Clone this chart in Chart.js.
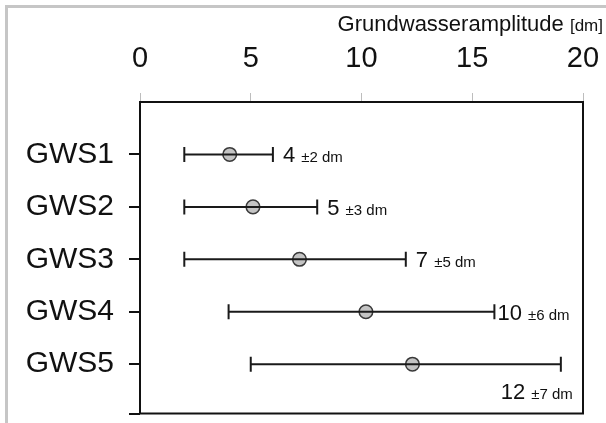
<!DOCTYPE html>
<html>
<head>
<meta charset="utf-8">
<script src="https://cdn.jsdelivr.net/npm/chart.js@4"></script>
<style>
  body { margin: 0; background: #fff; }
  #wrap { position: relative; width: 606px; height: 423px; }
  #frame { position: absolute; left: 5px; top: 5px; right: 0; bottom: 0;
           border-left: 3px solid #c6c6c6; border-top: 3px solid #c6c6c6; }
  canvas { position: absolute; left: 0; top: 0; }
</style>
</head>
<body>
<div id="wrap">
  <div id="frame"></div>
  <canvas id="chart" width="606" height="423"></canvas>
</div>
<script>
const stations = ['GWS1', 'GWS2', 'GWS3', 'GWS4', 'GWS5']
const means = [4.05, 5.1, 7.2, 10.2, 12.3]
const lows = [2, 2, 2, 4, 5]
const highs = [6, 8, 12, 16, 19]
const meanText = ['4', '5', '7', '10', '12']
const spreadText = ['±2 dm', '±3 dm', '±5 dm', '±6 dm', '±7 dm']
const xTicks = [0, 5, 10, 15, 20]
const axisTitle = 'Grundwasseramplitude'
const axisUnit = '[dm]'

const FONT = '"Liberation Sans", Arial, sans-serif'
const yMax = 5.94

// one dataset per range line, caps drawn as rotated line points
let datasets = stations.map(function (s, i) {
    return {
        data: [{ x: lows[i], y: i + 1 }, { x: highs[i], y: i + 1 }],
        showLine: true,
        borderColor: '#1a1a1a',
        borderWidth: 2,
        pointStyle: 'line',
        pointRotation: 90,
        pointRadius: 7.5,
        pointBorderWidth: 2,
        pointBorderColor: '#1a1a1a'
    }
})
datasets.push({
    data: means.map((m, i) => ({ x: m, y: i + 1 })),
    pointRadius: 6.8,
    pointBackgroundColor: '#c4c4c4',
    pointBorderColor: '#3a3a3a',
    pointBorderWidth: 1.5
})

const extras = {
    id: 'extras',
    afterDatasetsDraw(chart) {
        const c = chart.ctx
        const a = chart.chartArea
        const xs = chart.scales.x
        const ys = chart.scales.y
        c.save()
        c.strokeStyle = '#111'
        c.lineWidth = 2
        c.strokeRect(a.left, a.top, a.right - a.left, a.bottom - a.top)

        c.fillStyle = '#111'
        c.textBaseline = 'alphabetic'
        stations.forEach(function (s, i) {
            const big = meanText[i] + ' '
            const small = spreadText[i]
            c.font = '22px ' + FONT
            const w1 = c.measureText(big).width
            c.font = '15px ' + FONT
            const w2 = c.measureText(small).width
            let x, y
            if (i === stations.length - 1) {
                x = xs.getPixelForValue(highs[i]) + 12 - w1 - w2
                y = ys.getPixelForValue(i + 1) + 35
            } else {
                x = xs.getPixelForValue(highs[i]) + (i === 3 ? 3 : 10)
                y = ys.getPixelForValue(i + 1) + 8
            }
            c.font = '22px ' + FONT
            c.fillText(big, x, y)
            c.font = '15px ' + FONT
            c.fillText(small, x + w1, y)
        })

        // axis title, right aligned above the tick labels
        c.font = '17px ' + FONT
        const wu = c.measureText(axisUnit).width
        c.fillText(axisUnit, 603 - wu, 31)
        c.font = '22px ' + FONT
        const wt = c.measureText(axisTitle + ' ').width
        c.fillText(axisTitle + ' ', 603 - wu - wt, 31)
        c.restore()
    }
}

new Chart(document.getElementById('chart'), {
    type: 'scatter',
    data: { datasets: datasets },
    options: {
        responsive: false,
        animation: false,
        layout: { padding: { top: 0, right: 23, bottom: 7, left: 0 } },
        plugins: { legend: { display: false }, tooltip: { enabled: false } },
        scales: {
            x: {
                position: 'top',
                min: 0,
                max: 20,
                afterBuildTicks(scale) {
                    scale.ticks = xTicks.map(v => ({ value: v }))
                },
                afterFit(scale) {
                    scale.height = 102
                    scale.paddingLeft = 0
                    scale.paddingRight = 0
                },
                border: { display: false },
                grid: { drawOnChartArea: false, tickLength: 9, color: '#bdbdbd', lineWidth: 1 },
                ticks: { font: { size: 29, family: FONT }, color: '#111', padding: 17 }
            },
            y: {
                reverse: true,
                min: 0,
                max: yMax,
                afterBuildTicks(scale) {
                    scale.ticks = stations.map((s, i) => ({ value: i + 1 })).concat([{ value: yMax }])
                },
                afterFit(scale) {
                    scale.width = 140
                    scale.paddingTop = 0
                    scale.paddingBottom = 0
                },
                border: { display: false },
                grid: { drawOnChartArea: false, tickLength: 11, color: '#111', lineWidth: 2 },
                ticks: {
                    font: { size: 30, family: FONT },
                    color: '#111',
                    padding: 15,
                    callback: function (v) { return stations[v - 1] || '' }
                }
            }
        }
    },
    plugins: [extras]
})
</script>
</body>
</html>
